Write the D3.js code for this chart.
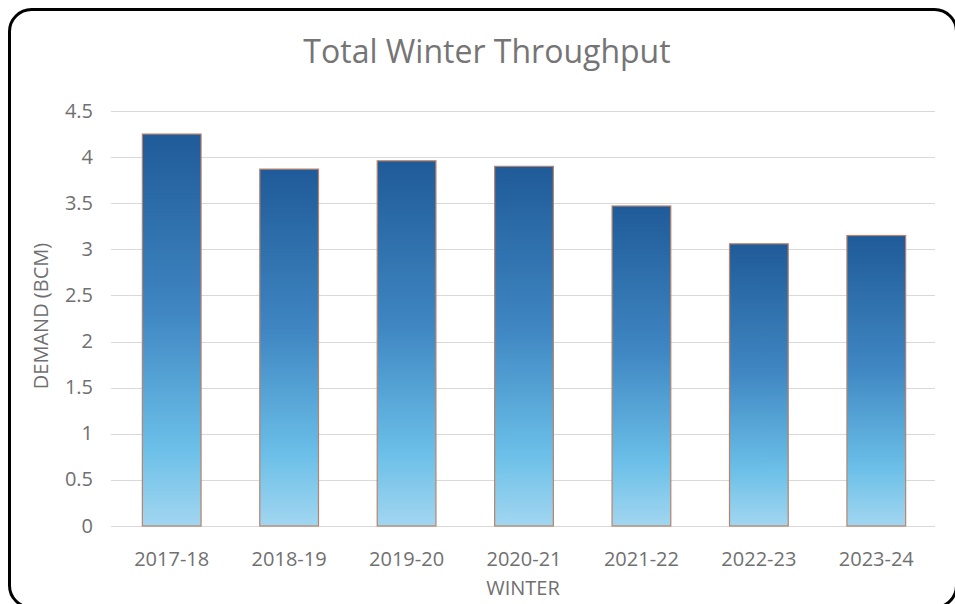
<!DOCTYPE html>
<html><head><meta charset="utf-8">
<script src="https://cdn.jsdelivr.net/npm/d3@7"></script>
<style>body{margin:0;background:#fff;overflow:hidden}svg{display:block}</style>
</head><body>
<svg id="chart" width="955" height="604"></svg>
<script>
const categories = ["2017-18","2018-19","2019-20","2020-21","2021-22","2022-23","2023-24"];
const values = [4.25, 3.87, 3.96, 3.90, 3.47, 3.06, 3.15];
const yTicks = [0,0.5,1,1.5,2,2.5,3,3.5,4,4.5];
const title = "Total Winter Throughput";
const xTitle = "WINTER";
const yTitle = "DEMAND (BCM)";

const svg = d3.select("#chart");
const font = "'Open Sans', 'Noto Sans', sans-serif";
const gray = "#707070";

svg.append("rect").attr("x",9.5).attr("y",9.5).attr("width",947).attr("height",598)
  .attr("rx",22).attr("fill","#fff").attr("stroke","#000").attr("stroke-width",3);

const m = {left:113, right:935, top:111, bottom:526};
const x = d3.scaleBand().domain(categories).range([m.left,m.right]).paddingInner(0.5).paddingOuter(0.25);
const y = d3.scaleLinear().domain([0,4.5]).range([m.bottom,m.top]);

const defs = svg.append("defs");
const g = defs.append("linearGradient").attr("id","barGrad").attr("x1",0).attr("y1",0).attr("x2",0).attr("y2",1);
[[0,"#1f5b98"],[0.45,"#3f86c2"],[0.8,"#6bbfe8"],[1,"#a2d6f0"]].forEach(([o,c])=>
  g.append("stop").attr("offset",o).attr("stop-color",c));

// grid
svg.append("g").selectAll("line").data(yTicks).join("line")
  .attr("x1",m.left-2).attr("x2",m.right)
  .attr("y1",d=>Math.round(y(d))+0.5).attr("y2",d=>Math.round(y(d))+0.5)
  .attr("stroke","#d9d9d9").attr("stroke-width",1);

// y axis labels
const yAxis = svg.append("g").attr("transform",`translate(${m.left},0)`)
  .call(d3.axisLeft(y).tickValues(yTicks).tickSize(0).tickPadding(20).tickFormat(d=>String(d)));
yAxis.select(".domain").remove();
yAxis.selectAll("text").attr("font-family",font).attr("font-size",20).attr("fill",gray).attr("dy","0.3em");

// bars
svg.append("g").selectAll("rect").data(values).join("rect")
  .attr("x",(d,i)=>x(categories[i])).attr("width",x.bandwidth())
  .attr("y",d=>y(d)).attr("height",d=>y(0)-y(d))
  .attr("fill","url(#barGrad)").attr("stroke","#b9836a").attr("stroke-width",1.2);

// x axis
const xAxis = svg.append("g").attr("transform",`translate(0,${m.bottom})`)
  .call(d3.axisBottom(x).tickSize(0));
xAxis.select(".domain").remove();
xAxis.selectAll("text").attr("y",40).attr("dy",0).attr("font-family",font).attr("font-size",20).attr("fill",gray);

svg.append("text").attr("x",487).attr("y",63).attr("text-anchor","middle")
  .attr("font-family",font).attr("font-size",32).attr("fill","#757575").text(title);
svg.append("text").attr("x",523).attr("y",595).attr("text-anchor","middle")
  .attr("font-family",font).attr("font-size",20).attr("fill",gray).text(xTitle);
svg.append("text").attr("transform","translate(48,316) rotate(-90)").attr("text-anchor","middle")
  .attr("font-family",font).attr("font-size",20).attr("fill",gray).text(yTitle);
</script>
</body></html>
